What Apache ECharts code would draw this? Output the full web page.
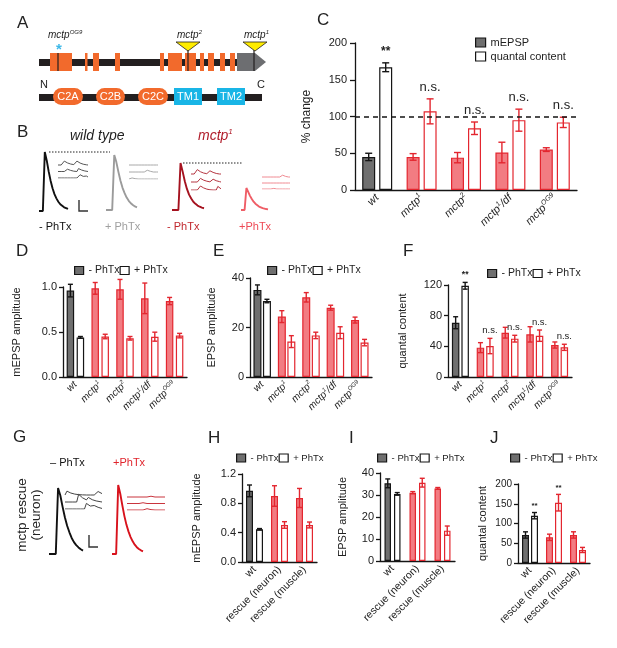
<!DOCTYPE html>
<html><head><meta charset="utf-8">
<script src="https://cdn.jsdelivr.net/npm/echarts@6/dist/echarts.min.js"></script>
<style>html,body{margin:0;padding:0;background:#fff}#c{width:617px;height:648px}</style>
</head><body><div id="c"></div>
<script>
// ---------------- DATA ----------------
// Panel C (% change)
const catC = ['wt','mctp1','mctp2','mctp1/df','mctpOG9'];
const mepspC = [45,45,44,51,55];
const mepspErrC = [5,4.5,7,14,2.5];
const qcC = [167,107,84,95,92];
const qcErrC = [6,17,8.5,15,7];
const sigC = ['**','n.s.','n.s.','n.s.','n.s.'];
const yTicksC = [0,50,100,150,200];
const refLineC = 100;
// Panel D (mEPSP amplitude)
const catD = ['wt','mctp1','mctp2','mctp1/df','mctpOG9'];
const minusD = [0.96,0.985,0.974,0.874,0.844];
const minusErrD = [0.07,0.065,0.11,0.17,0.04];
const plusD = [0.44,0.45,0.43,0.448,0.46];
const plusErrD = [0.01,0.025,0.02,0.05,0.025];
const yTicksD = [0,0.5,1.0];
// Panel E (EPSP amplitude)
const minusE = [35.2,24.4,32.2,28,23];
const minusErrE = [2,2.4,1.9,1,1.2];
const plusE = [30.7,14.3,16.8,17.9,13.9];
const plusErrE = [0.7,2.4,1.3,2.4,1.3];
const yTicksE = [0,20,40];
// Panel F (quantal content)
const minusF = [70.8,38.3,57.8,55.6,41.7];
const minusErrF = [7.8,6.5,7,10,4];
const plusF = [119,40.4,50,53.9,38.7];
const plusErrF = [4.4,10,4.4,7.4,4];
const sigF = ['**','n.s.','n.s.','n.s.','n.s.'];
const yTicksF = [0,40,80,120];
// Panels H, I, J (rescue)
const catRescue = ['wt','rescue (neuron)','rescue (muscle)'];
const minusH = [0.97,0.90,0.873];
const minusErrH = [0.08,0.14,0.13];
const plusH = [0.446,0.505,0.505];
const plusErrH = [0.01,0.045,0.04];
const yTicksH = [0,0.4,0.8,1.2];
const minusI = [35.3,31.05,33.0];
const minusErrI = [2,0.5,0.4];
const plusI = [30.5,35.6,13.8];
const plusErrI = [0.6,2,2.1];
const yTicksI = [0,10,20,30,40];
const minusJ = [70.9,65,71];
const minusErrJ = [8,8,8];
const plusJ = [119.8,152.7,33];
const plusErrJ = [8,21,6.5];
const sigJ = ['**','**',''];
const yTicksJ = [0,50,100,150,200];
// Traces (panel B, G), sampled at equal time steps
const traceWTminus = [0,0,0,35,30,23.5,18,13.5,10,7.5,5.5,4,3,2.2,1.6,1.2];
const traceWTplus = [0,0,0,0,31,27,21.5,16.5,12.5,9.5,7,5.2,3.8,2.8,2,1.5];
const traceM1minus = [0,0,0,0,24.5,20,15,11,8,6,4.3,3.2,2.3,1.7,1.2,0.9];
const traceM1plus = [0,0,0,14,11.5,9,7,5.3,4,3,2.2,1.6,1.2,0.9,0.6,0.4];
const traceRescueMinus = [0,0,0,0,35,31,25,19.5,15,11.5,8.5,6.3,4.7,3.5,2.5,1.8];
const traceRescuePlus = [0,0,0,35.5,31,25,19.5,15,11.5,8.7,6.5,4.8,3.5,2.6,1.9,1.4];
const miniWTminus = [
  [0,0,0,0,0.6,0.45,0.32,0.22,0.15,0.1,0.06,0.03,0.6,0.45,0.3,0.2,0.12,0.07,0.03,0],
  [0,0,0,0,0,0.02,0.35,0.25,0.17,0.1,0.05,0.02,0,0.45,0.33,0.22,0.14,0.08,0.04,0],
  [0,0,0,0,0,0,0,0,0,0,0,0,0,0.02,0.5,0.36,0.25,0.45,0.3,0.15]];
const miniWTplus = [
  [0,0,0,0,0,0,0,0,0,0,0,0,0,0,0,0,0,0,0,0],
  [0,0,0,0,0,0,0,0,0,0,0,0,0.25,0.18,0.1,0.05,0,0,0,0],
  [0,0,0.15,0.1,0.05,0,0,0,0,0,0,0,0,0,0,0,0,0,0,0]];
const miniM1minus = [
  [0,0,0,0,0.55,0.4,0.28,0.2,0.12,0.07,0.04,0.02,0.4,0.3,0.2,0.12,0.07,0.03,0,0],
  [0,0,0,0,0,0,0.45,0.33,0.23,0.15,0.1,0.05,0.02,0,0.35,0.25,0.16,0.1,0.05,0],
  [0,0,0,0,0,0,0.5,0.37,0.26,0.18,0.11,0.06,0.03,0,0,0,0,0.45,0.3,0.15]];
const miniM1plus = [
  [0,0,0,0,0,0,0,0,0,0,0,0,0,0,0.3,0.2,0.1,0.05,0,0],
  [0,0,0,0,0,0,0,0,0,0,0,0,0,0,0,0,0,0,0,0],
  [0,0,0,0,0,0,0,0,0.1,0.05,0,0,0,0,0,0,0,0,0,0]];
const miniRescueMinus = [
  [0,0.55,0.4,0.28,0.2,0.13,0.08,0.05,0.03,0.02,0,0,0,0,0,0,0,0.5,0.35,0.2],
  [0,0,0,0,0,0,0,1.1,0.85,0.6,0.42,0.3,0.65,0.47,0.33,0.22,0.15,0.1,0.05,0],
  [0,0,0,0,0,0,0,0,0,0,0,0.8,0.6,0.42,0.3,0.5,0.35,0.24,0.15,0.08]];
const miniRescuePlus = [
  [0,0,0,0,0,0,0,0,0,0,0,0.2,0.12,0.06,0,0,0,0,0,0],
  [0,0,0,0,0,0,0,0.2,0.12,0.06,0,0,0,0,0,0,0,0,0,0],
  [0,0,0,0,0,0,0,0,0,0,0.2,0.12,0.06,0,0,0,0,0,0,0]];

// ---------------- STYLE ----------------
const FONT = '"Liberation Sans", Arial, Helvetica, sans-serif';
const GREY='#6f6f6f', BLACK='#151515', RED='#e3262f', REDFILL='#f27c82', TXT='#222';

const grids=[], xAxes=[], yAxes=[], series=[], legends=[];

const SUP = {'mctp1':['mctp','1',''],'mctp2':['mctp','2',''],'mctp1/df':['mctp','1','/df'],'mctpOG9':['mctp','OG9','']};
function catFmt(v, italic){
  if (SUP[v]) { const [a,b,c]=SUP[v]; return '{i|'+a+'}{s|'+b+'}'+(c?'{i|'+c+'}':''); }
  return italic ? '{i|'+v+'}' : '{n|'+v+'}';
}
function richFor(sz){
  return {
    i:{fontStyle:'italic',fontSize:sz,fontFamily:FONT,color:TXT,lineHeight:sz+2},
    s:{fontStyle:'italic',fontSize:Math.round(sz*0.6),fontFamily:FONT,color:TXT,verticalAlign:'top',lineHeight:sz+2},
    n:{fontSize:sz,fontFamily:FONT,color:TXT,lineHeight:sz+2}
  };
}

function errorSeries(gi, vals, errs, offset, colors, capW, labels, lblSize, lblGap){
  return {
    type:'custom', xAxisIndex:gi, yAxisIndex:gi, z:5, silent:true, clip:false,
    data: vals.map((v,i)=>[i,v,errs[i]]),
    encode:{x:0,y:1},
    renderItem(params, api){
      const i=api.value(0), v=api.value(1), e=api.value(2);
      const pt=api.coord([i,v+e]), pb=api.coord([i,v-e]);
      const x=pt[0]+offset, c=colors[i], lw=1.4;
      const ch=[
        {type:'line',shape:{x1:x,y1:pt[1],x2:x,y2:pb[1]},style:{stroke:c,lineWidth:lw}},
        {type:'line',shape:{x1:x-capW/2,y1:pt[1],x2:x+capW/2,y2:pt[1]},style:{stroke:c,lineWidth:lw}},
        {type:'line',shape:{x1:x-capW/2,y1:pb[1],x2:x+capW/2,y2:pb[1]},style:{stroke:c,lineWidth:lw}}
      ];
      if (labels && labels[i]) {
        const bold = labels[i]==='**';
        ch.push({type:'text',x:x,y:pt[1]-lblGap,style:{text:labels[i],fill:TXT,fontSize:bold?lblSize-1:lblSize,fontWeight:bold?'bold':'normal',fontFamily:FONT,align:'center',verticalAlign:'bottom'}});
      }
      return {type:'group',children:ch};
    }
  };
}

function addBarPanel(p){
  const gi=grids.length;
  grids.push({left:p.left,top:p.top,width:p.width,height:p.height,containLabel:false,outerBoundsMode:'none'});
  xAxes.push({gridIndex:gi,type:'category',data:p.cats,
    axisLine:{lineStyle:{color:BLACK,width:1.3}},axisTick:{show:false},
    axisLabel:{interval:0,rotate:45,margin:p.xMargin||6,formatter:v=>catFmt(v,p.italic),rich:richFor(p.xSize)}});
  const t=p.yTicks;
  yAxes.push({gridIndex:gi,type:'value',min:t[0],max:t[t.length-1],interval:t[1]-t[0],
    name:p.yName,nameLocation:'middle',nameGap:p.nameGap,nameRotate:90,
    nameTextStyle:{fontSize:p.nameSize||11,color:TXT,fontFamily:FONT},
    axisLine:{show:true,lineStyle:{color:BLACK,width:1.3}},
    axisTick:{show:true,length:p.tickLen||4,lineStyle:{color:BLACK,width:1.3}},
    axisLabel:{fontSize:p.tickSize||11,color:TXT,fontFamily:FONT,margin:p.yMargin||6,
      formatter:v=>p.dec?Number(v).toFixed(p.dec):String(Math.round(v))},
    splitLine:{show:false}});
  const isWT=p.cats.map(c=>c==='wt');
  const gapPct=(p.gap/p.bw*100).toFixed(1)+'%';
  const s1={name:p.names[0],type:'bar',xAxisIndex:gi,yAxisIndex:gi,barWidth:p.bw,barGap:gapPct,
    itemStyle:{color:GREY,borderColor:BLACK,borderWidth:1.2},
    data:p.minus.map((v,i)=>({value:v,itemStyle:isWT[i]?{color:GREY,borderColor:BLACK}:{color:REDFILL,borderColor:RED}}))};
  if (p.refLine!=null) s1.markLine={silent:true,symbol:['none','none'],label:{show:false},
    lineStyle:{type:[5,4],color:BLACK,width:1.5},data:[{yAxis:p.refLine}],z:6};
  series.push(s1);
  series.push({name:p.names[1],type:'bar',xAxisIndex:gi,yAxisIndex:gi,barWidth:p.bw,barGap:gapPct,
    itemStyle:{color:'#fff',borderColor:BLACK,borderWidth:1.2},
    data:p.plus.map((v,i)=>({value:v,itemStyle:{color:'#fff',borderColor:isWT[i]?BLACK:RED}}))});
  const off=(p.bw+p.gap)/2;
  const ecol=isWT.map(w=>w?BLACK:RED);
  series.push(errorSeries(gi,p.minus,p.minusErr,-off,ecol,p.cap,null));
  series.push(errorSeries(gi,p.plus,p.plusErr,off,ecol,p.cap,p.sig,p.sigSize,p.sigGap));
  const lg=p.legend;
  legends.push({left:lg.left,top:lg.top,orient:lg.orient||'horizontal',padding:0,itemGap:lg.gap,
    itemWidth:lg.iw,itemHeight:lg.ih,selectedMode:false,
    textStyle:{fontSize:lg.size,color:TXT,fontFamily:FONT},
    data:[{name:p.names[0],icon:'rect',itemStyle:{color:GREY,borderColor:BLACK,borderWidth:1.2}},
          {name:p.names[1],icon:'rect',itemStyle:{color:'#fff',borderColor:BLACK,borderWidth:1.2}}]});
}

function addTrace(left,top,width,height,lines,yMax,color,lw){
  const gi=grids.length;
  grids.push({left,top,width,height,containLabel:false,outerBoundsMode:'none'});
  xAxes.push({gridIndex:gi,type:'category',boundaryGap:false,show:false,data:lines[0].map((_,i)=>i)});
  yAxes.push({gridIndex:gi,type:'value',min:0,max:yMax,show:false});
  lines.forEach(d=>series.push({type:'line',xAxisIndex:gi,yAxisIndex:gi,data:d,symbol:'none',silent:true,
    lineStyle:{color,width:lw},z:3}));
}
function addBig(left,top,width,height,trace,color){ addTrace(left,top,width,height,[trace],Math.max(...trace),color,1.9); }
function addMini(left,bottom,width,spacingPx,minis,color){
  const n=minis.length;
  const lines=minis.map((d,k)=>d.map(v=>v+(n-1-k)));
  addTrace(left,bottom-n*spacingPx,width,n*spacingPx,lines,n,color,1);
}

// ---- bar panels ----
const PH=['- PhTx','+ PhTx'];
addBarPanel({left:355,top:43,width:222,height:147,cats:catC,italic:true,xSize:11,minus:mepspC,minusErr:mepspErrC,
  plus:qcC,plusErr:qcErrC,sig:sigC,sigSize:13,sigGap:5,yTicks:yTicksC,yName:'% change',nameGap:42,nameSize:12,
  tickLen:5,yMargin:8,bw:13,gap:4,cap:7,refLine:refLineC,names:['mEPSP','quantal content'],
  legend:{left:475,top:37,orient:'vertical',gap:3,iw:10,ih:9,size:11}});
addBarPanel({left:63,top:287,width:124,height:90,cats:catD,italic:true,xSize:10,minus:minusD,minusErr:minusErrD,
  plus:plusD,plusErr:plusErrD,yTicks:yTicksD,dec:1,yName:'mEPSP amplitude',nameGap:41,
  bw:7.5,gap:2.5,cap:5,names:PH,legend:{left:74,top:265,gap:0,iw:9,ih:8,size:10.5}});
addBarPanel({left:250,top:278,width:122,height:99,cats:catD,italic:true,xSize:10,minus:minusE,minusErr:minusErrE,
  plus:plusE,plusErr:plusErrE,yTicks:yTicksE,yName:'EPSP amplitude',nameGap:33,
  bw:8,gap:1.5,cap:5,names:PH,legend:{left:267,top:265,gap:0,iw:9,ih:8,size:10.5}});
addBarPanel({left:448,top:285,width:124,height:92,cats:catD,italic:true,xSize:10,minus:minusF,minusErr:minusErrF,
  plus:plusF,plusErr:plusErrF,sig:sigF,sigSize:9.5,sigGap:3,yTicks:yTicksF,yName:'quantal content',nameGap:40,
  bw:7.5,gap:2,cap:5,names:PH,legend:{left:487,top:268,gap:0,iw:9,ih:8,size:10.5}});
addBarPanel({left:242,top:474,width:75,height:88,cats:catRescue,italic:false,xSize:10.5,minus:minusH,minusErr:minusErrH,
  plus:plusH,plusErr:plusErrH,yTicks:yTicksH,dec:1,yName:'mEPSP amplitude',nameGap:40,
  bw:7,gap:3,cap:5,names:PH,legend:{left:236,top:453,gap:0,iw:9,ih:8,size:9.5}});
addBarPanel({left:380,top:473,width:75,height:88,cats:catRescue,italic:false,xSize:10.5,minus:minusI,minusErr:minusErrI,
  plus:plusI,plusErr:plusErrI,yTicks:yTicksI,yName:'EPSP amplitude',nameGap:32,
  bw:6.5,gap:3,cap:5,names:PH,legend:{left:377,top:453,gap:0,iw:9,ih:8,size:9.5}});
addBarPanel({left:518,top:484,width:72,height:79,cats:catRescue,italic:false,xSize:10.5,minus:minusJ,minusErr:minusErrJ,
  plus:plusJ,plusErr:plusErrJ,sig:sigJ,sigSize:9,sigGap:3,yTicks:yTicksJ,tickSize:10,yName:'quantal content',nameGap:30,
  bw:7,gap:2,cap:5,names:PH,legend:{left:510,top:453,gap:0,iw:9,ih:8,size:9.5}});

// ---- traces ----
addBig(39,152,29,59,traceWTminus,'#111');
addBig(106,155,31,55,traceWTplus,'#9b9b9b');
addBig(172,163,32,47,traceM1minus,'#a5121f');
addBig(241,188,27,22,traceM1plus,'#ef5d66');
addMini(58,178,30,6.5,miniWTminus,'#555');
addMini(129,179,29,7,miniWTplus,'#a8a8a8');
addMini(191,190,30,8,miniM1minus,'#b53440');
addMini(262,189,28,6,miniM1plus,'#f08a92');
addBig(49,488,34,66,traceRescueMinus,'#111');
addBig(112,485,31,69,traceRescuePlus,'#d8121c');
addMini(65,509,37,7,miniRescueMinus,'#444');
addMini(127,510,38,6.5,miniRescuePlus,'#c9343d');

// ---- graphics (schematic, labels) ----
const ORANGE='#f26a2c', CYAN='#19b5e6', YELLOW='#ffec00', DARK='#231f20';
const G=[];
function txt(x,y,text,o){ G.push(Object.assign({type:'text',x,y,style:Object.assign({text,fill:TXT,fontSize:12,fontFamily:FONT,align:'left',verticalAlign:'middle'},o||{})})); }
function supTxt(x,y,base,sup,size,color){
  G.push({type:'text',x,y,style:{text:'{a|'+base+'}{b|'+sup+'}',align:'left',verticalAlign:'middle',
    rich:{a:{fontStyle:'italic',fontSize:size,fontFamily:FONT,fill:color,lineHeight:size+2},
          b:{fontStyle:'italic',fontSize:Math.round(size*0.6),fontFamily:FONT,fill:color,verticalAlign:'top',lineHeight:size+2}}}});
}
// panel letters
[['A',17,23],['B',17,132],['C',317,20],['D',16,251],['E',213,251],['F',403,251],['G',13,437],['H',208,438],['I',349,438],['J',490,438]]
  .forEach(([t,x,y])=>txt(x,y,t,{fontSize:17}));
// Panel A gene
G.push({type:'rect',shape:{x:39,y:59,width:200,height:7},style:{fill:DARK}});
[[50,22],[85,2.5],[93,6],[115,5],[160,4],[168,14],[185,11],[200,4],[208,6],[220,5],[230,5]].forEach(([x,w])=>
  G.push({type:'rect',shape:{x,y:53,width:w,height:18},style:{fill:ORANGE}}));
G.push({type:'polygon',shape:{points:[[237,53],[255,53],[266,62],[255,71],[237,71]]},style:{fill:'#6d6e71'}});
[[58,53],[188,50],[254,50]].forEach(([x,y])=>G.push({type:'line',shape:{x1:x,y1:y,x2:x,y2:71},style:{stroke:DARK,lineWidth:1.2}}));
[[176,200,188],[243,267,255]].forEach(([a,b,c])=>G.push({type:'polygon',shape:{points:[[a,42],[b,42],[c,51]]},style:{fill:YELLOW,stroke:DARK,lineWidth:0.8}}));
txt(59,50,'*',{fill:'#3cb8e8',fontSize:15,fontWeight:'bold',align:'center'});
supTxt(48,35,'mctp','OG9',10,TXT);
supTxt(177,35,'mctp','2',10,TXT);
supTxt(244,35,'mctp','1',10,TXT);
// protein
G.push({type:'rect',shape:{x:39,y:94,width:223,height:7},style:{fill:DARK}});
txt(40,85,'N',{fontSize:11});
txt(257,85,'C',{fontSize:11});
[['C2A',53,30,ORANGE,8.5],['C2B',96,29,ORANGE,8.5],['C2C',138,30,ORANGE,8.5],['TM1',174,28,CYAN,0],['TM2',217,28,CYAN,0]].forEach(([t,x,w,c,r])=>{
  G.push({type:'rect',shape:{x,y:88,width:w,height:17,r},style:{fill:c}});
  txt(x+w/2,97,t,{fill:'#fff',fontSize:11,align:'center'});
});
// Panel B
txt(70,136,'wild type',{fontSize:14,fontStyle:'italic'});
supTxt(198,136,'mctp','1',14,'#b01c2a');
G.push({type:'line',shape:{x1:49,y1:152,x2:110,y2:152},style:{stroke:'#222',lineWidth:1,lineDash:[1.5,1.5]}});
G.push({type:'line',shape:{x1:183,y1:163,x2:243,y2:163},style:{stroke:'#222',lineWidth:1,lineDash:[1.5,1.5]}});
G.push({type:'polyline',shape:{points:[[79,200],[79,211],[88,211]]},style:{stroke:'#333',lineWidth:1.4,fill:null}});
txt(39,227,'- PhTx',{fontSize:11,fill:'#111'});
txt(105,227,'+ PhTx',{fontSize:11,fill:'#a0a0a0'});
txt(167,227,'- PhTx',{fontSize:11,fill:'#c1272d'});
txt(239,227,'+PhTx',{fontSize:11,fill:'#ee4a55'});
// Panel G
G.push({type:'text',x:29,y:515,rotation:Math.PI/2,style:{text:'mctp rescue\n(neuron)',align:'center',verticalAlign:'middle',fontSize:13.5,lineHeight:14,fill:TXT,fontFamily:FONT}});
txt(50,463,'– PhTx',{fontSize:11,fill:'#111'});
txt(113,463,'+PhTx',{fontSize:11,fill:'#e0242c'});
G.push({type:'polyline',shape:{points:[[89,535],[89,547],[98,547]]},style:{stroke:'#333',lineWidth:1.4,fill:null}});

const chart=echarts.init(document.getElementById('c'),null,{renderer:'canvas'});
chart.setOption({animation:false,backgroundColor:'#fff',textStyle:{fontFamily:FONT},
  grid:grids,xAxis:xAxes,yAxis:yAxes,series,legend:legends,graphic:G});
</script></body></html>
